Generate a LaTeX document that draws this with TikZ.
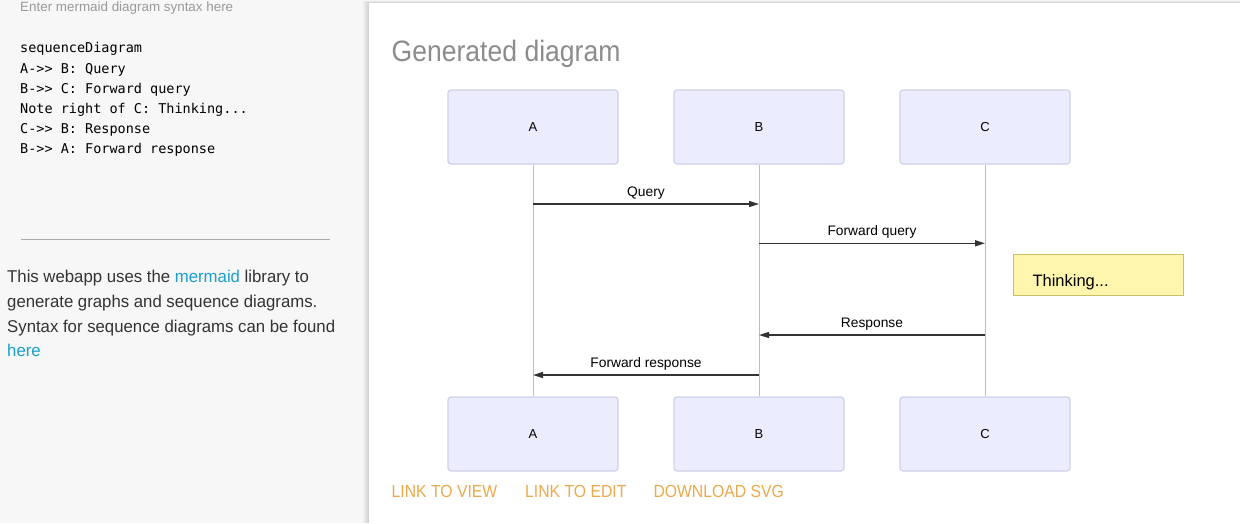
\documentclass[tikz,border=0pt]{standalone}
\usepackage{fontspec}
\setmainfont{Liberation Sans}
\newfontfamily\robo{Liberation Sans}
\newfontfamily\roboP{Liberation Sans}[FakeStretch=0.98]
\newfontfamily\roboN{Liberation Sans}[FakeStretch=0.9]
\newfontfamily\monof{DejaVu Sans Mono}
\usetikzlibrary{arrows.meta}
\definecolor{pagebg}{HTML}{F7F7F7}
\definecolor{actorFill}{HTML}{ECECFF}
\definecolor{actorStroke}{HTML}{CFCFE8}
\definecolor{lifeGray}{HTML}{BDBDBD}
\definecolor{msgCol}{HTML}{333333}
\definecolor{noteFill}{HTML}{FFF5AD}
\definecolor{noteStroke}{HTML}{CBBF66}
\definecolor{titleGray}{HTML}{8C8C8C}
\definecolor{hintGray}{HTML}{9A9A9A}
\definecolor{linkOrange}{HTML}{EBAA4D}
\definecolor{linkBlue}{HTML}{1A9FCB}
\definecolor{textDark}{HTML}{333333}
\definecolor{ruleGray}{HTML}{AAAAAA}
\begin{document}
\begin{tikzpicture}[x=1pt,y=-1pt,
  actor/.style={draw=actorStroke, fill=actorFill, rounded corners=3pt, line width=1.2pt,
    minimum width=170pt, minimum height=74pt, inner sep=0pt, font=\robo\fontsize{13}{14}\selectfont},
  life/.style={draw=lifeGray, line width=0.9pt},
  msg/.style={draw=msgCol, line width=1.5pt, -{Triangle[length=10pt,width=6pt]}},
  msglbl/.style={font=\robo\fontsize{13.8}{16}\selectfont, text=black, anchor=base, yshift=8pt, inner sep=0pt},
  notebox/.style={draw=noteStroke, fill=noteFill, line width=1pt, minimum width=170pt, minimum height=41pt, inner sep=0pt},
  notetxt/.style={font=\robo\fontsize{16.5}{18}\selectfont, anchor=base west, inner sep=0pt},
  codetxt/.style={font=\monof\fontsize{13.5}{16}\selectfont, anchor=base west, inner sep=0pt, text=black},
  paratxt/.style={font=\roboP\fontsize{17.1}{20}\selectfont, anchor=base west, inner sep=0pt, text=textDark},
  linktxt/.style={font=\roboN\fontsize{17.5}{20}\selectfont, anchor=base west, inner sep=0pt, text=linkOrange},
]
\useasboundingbox (0,0) rectangle (1240,523);
% backgrounds
\fill[pagebg] (0,0) rectangle (1240,523);
\foreach \i in {1,...,6} {\fill[black, opacity=0.025] (369-\i,3-0.4*\i) rectangle (1240,523);}
\fill[white] (369,3) rectangle (1240,523);

% left panel
\node[font=\robo\fontsize{13.4}{15}\selectfont, text=hintGray, anchor=base west, inner sep=0pt] (hint) at (20,11) {Enter mermaid diagram syntax here};
\node[codetxt] (c1) at (20,52.5) {sequenceDiagram};
\node[codetxt] (c2) at (20,73) {A->> B: Query};
\node[codetxt] (c3) at (20,93) {B->> C: Forward query};
\node[codetxt] (c4) at (20,113) {Note right of C: Thinking...};
\node[codetxt] (c5) at (20,133.5) {C->> B: Response};
\node[codetxt] (c6) at (20,153.5) {B->> A: Forward response};
\coordinate (r1) at (20.5,239);
\coordinate (r2) at (330,239);
\draw[ruleGray, line width=1pt] (r1) -- (r2);
\node[paratxt] (p1) at (7,282.3) {This webapp uses the \textcolor{linkBlue}{mermaid} library to};
\node[paratxt] (p2) at (7,307.3) {generate graphs and sequence diagrams.};
\node[paratxt] (p3) at (7,332) {Syntax for sequence diagrams can be found};
\node[paratxt, text=linkBlue] (p4) at (7,356) {here};

% title
\node[font=\roboN\fontsize{29.5}{32}\selectfont, text=titleGray, anchor=base west, inner sep=0pt] (title) at (391.5,61.7) {Generated diagram};

% actors
\node[actor] (a1) at (533,127) {A};
\node[actor] (b1) at (759,127) {B};
\node[actor] (cc1) at (985,127) {C};
\node[actor] (a2) at (533,434) {A};
\node[actor] (b2) at (759,434) {B};
\node[actor] (cc2) at (985,434) {C};

% lifelines
\draw[life] (a1) -- (a2);
\draw[life] (b1) -- (b2);
\draw[life] (cc1) -- (cc2);

% messages
\draw[msg] (a1 |- 0,204) -- (b1 |- 0,204) node[midway, msglbl] {Query};
\draw[msg] (b1 |- 0,243.3) -- (cc1 |- 0,243.3) node[midway, msglbl] {Forward query};
\draw[msg] (cc1 |- 0,335) -- (b1 |- 0,335) node[midway, msglbl] {Response};
\draw[msg] (b1 |- 0,375) -- (a1 |- 0,375) node[midway, msglbl] {Forward response};

% note
\node[notebox] (note) at (1098.3,274.8) {};
\node[notetxt] (notet) at (1032.3,286.7) {Thinking...};

% links
\node[linktxt] (l1) at (391.5,497.3) {LINK TO VIEW};
\node[linktxt] (l2) at (525,497.3) {LINK TO EDIT};
\node[linktxt] (l3) at (653.3,497.3) {DOWNLOAD SVG};
\end{tikzpicture}
\end{document}
